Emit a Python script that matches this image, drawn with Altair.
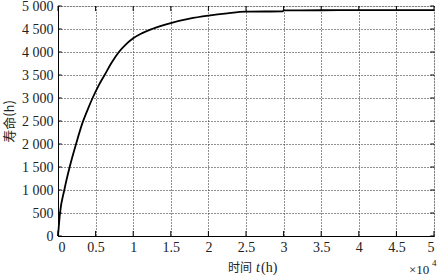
import altair as alt
import pandas as pd

# time in units of 10^4 h
t_vals = [0, 0.027, 0.084, 0.155, 0.24, 0.33, 0.40, 0.46, 0.54, 0.62, 0.71, 0.81, 0.90, 1.0,
          1.12, 1.25, 1.5, 1.75, 2.0, 2.25, 2.5, 2.99, 3.0, 3.5, 4.0, 4.5, 5.0]
life_vals = [0, 500, 1000, 1500, 2000, 2480, 2770, 3000, 3270, 3500, 3760, 4000, 4160, 4298,
             4410, 4500, 4630, 4725, 4790, 4840, 4876, 4885, 4905, 4908, 4910, 4910, 4910]
x_ticks = [0, 0.5, 1, 1.5, 2, 2.5, 3, 3.5, 4, 4.5, 5]
y_ticks = [0, 500, 1000, 1500, 2000, 2500, 3000, 3500, 4000, 4500, 5000]
x_title_parts = ["时间", "t", "(h)"]

W, H = 376, 230
SERIF = "Liberation Serif"
CJK = "Noto Sans CJK SC"

df = pd.DataFrame({"t": t_vals, "life": life_vals})
xs = alt.Scale(domain=[0, 5], nice=False)
ys = alt.Scale(domain=[0, 5000], nice=False)

x_axis = alt.Axis(values=x_ticks, format="~g", title=None, labelOverlap=False,
                  labelFont=SERIF)
y_axis = alt.Axis(values=y_ticks, title="寿命(h)", labelOverlap=False, labelFont=SERIF,
                  labelExpr="replace(format(datum.value, ','), ',', ' ')")

line = alt.Chart(df).mark_line(color="black", strokeWidth=1.8, interpolate="monotone").encode(
    x=alt.X("t:Q", scale=xs, axis=x_axis),
    y=alt.Y("life:Q", scale=ys, axis=y_axis),
)

# inward tick marks on all four sides
xt = pd.DataFrame({"v": x_ticks})
yt = pd.DataFrame({"v": y_ticks})
bt = alt.Chart(xt).mark_rule(color="black", strokeWidth=1).encode(
    x=alt.X("v:Q", scale=xs, axis=x_axis), y=alt.datum(0, scale=ys, axis=y_axis), y2=alt.datum(110))
tt = alt.Chart(xt).mark_rule(color="black", strokeWidth=1).encode(
    x=alt.X("v:Q", scale=xs, axis=x_axis), y=alt.datum(5000, scale=ys, axis=y_axis), y2=alt.datum(4890))
lt = alt.Chart(yt).mark_rule(color="black", strokeWidth=1).encode(
    y=alt.Y("v:Q", scale=ys, axis=y_axis), x=alt.datum(0, scale=xs, axis=x_axis), x2=alt.datum(0.05))
rt = alt.Chart(yt).mark_rule(color="black", strokeWidth=1).encode(
    y=alt.Y("v:Q", scale=ys, axis=y_axis), x=alt.datum(5, scale=xs, axis=x_axis), x2=alt.datum(4.95))

def label(txt, x, y, font, size, style="normal"):
    return alt.Chart(pd.DataFrame({"s": [txt]})).mark_text(
        font=font, fontSize=size, fontStyle=style, align="left", baseline="alphabetic",
        color="#222").encode(text="s:N", x=alt.value(x), y=alt.value(y))

t1 = label(x_title_parts[0], 170, 266, CJK, 12)
t2 = label(x_title_parts[1], 198, 266, SERIF, 14, "italic")
t3 = label(x_title_parts[2], 203, 266, SERIF, 14)
mult = label("×10", 351, 268, SERIF, 13)
sup = label("4", 374, 260, SERIF, 9)

chart = alt.layer(line, bt, tt, lt, rt, t1, t2, t3, mult, sup).properties(
    width=W, height=H,
    autosize=alt.AutoSizeParams(type="none"),
    padding={"left": 58, "top": 6, "right": 3, "bottom": 40},
).configure_view(stroke="black", strokeWidth=1).configure(background="white", font=SERIF).configure_axis(
    labelFont=SERIF, labelFontSize=14, labelColor="#222", labelPadding=4, tickSize=0,
    labelOverlap=False,
    titleFont=CJK, titleFontSize=13, titleFontWeight="normal", titleColor="#222",
    grid=True, gridColor="#222", gridDash=[1, 2], gridWidth=1, gridOpacity=1,
    domainColor="black", domainWidth=1,
).configure_axisY(titlePadding=5, labelPadding=5)

chart.save("out.html", embed_options={"renderer": "svg", "actions": False})
